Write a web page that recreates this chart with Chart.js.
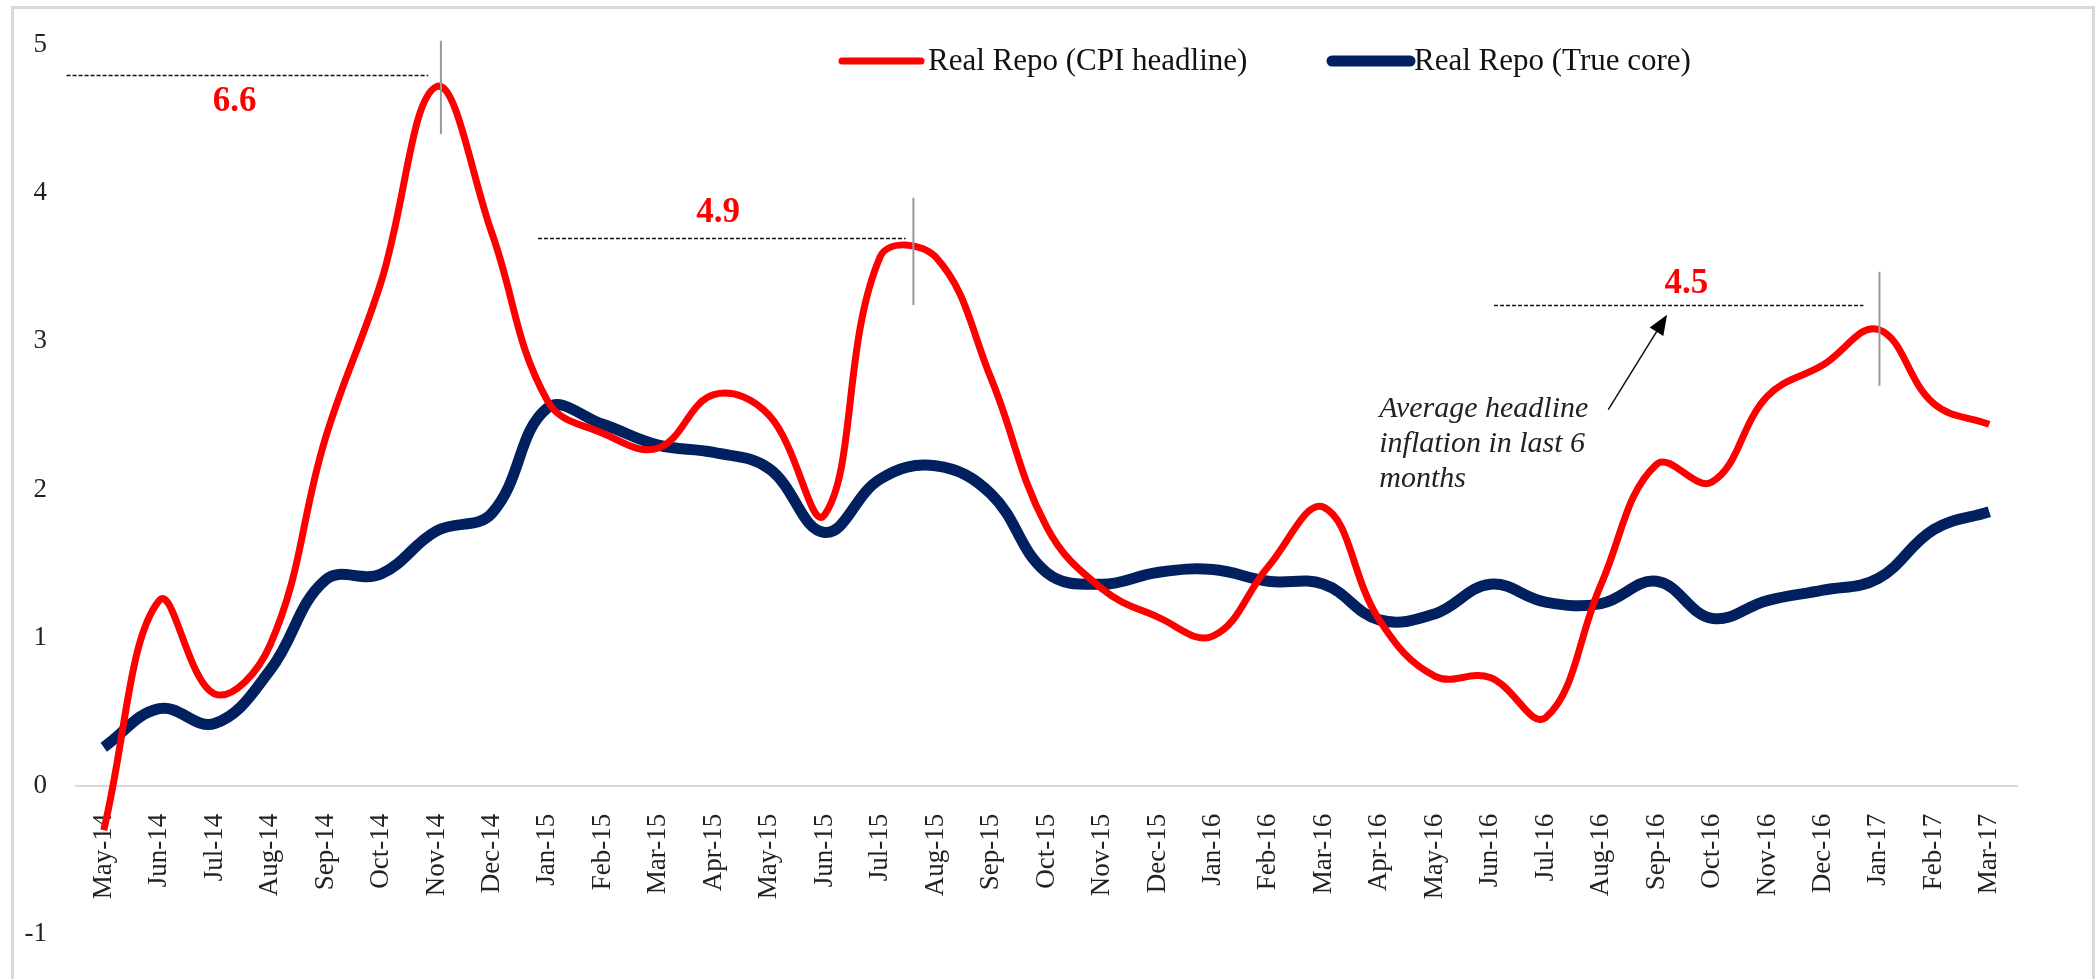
<!DOCTYPE html>
<html>
<head>
<meta charset="utf-8">
<script src="https://cdn.jsdelivr.net/npm/chart.js@4"></script>
<style>
  body { margin: 0; background: #fff; overflow: hidden; }
  #wrap { position: relative; width: 2096px; height: 979px; }
</style>
</head>
<body>
<div id="wrap"><canvas id="repo-chart"></canvas></div>
<script>
/*
 * Months on the x axis
 */
const months = ['May-14', 'Jun-14', 'Jul-14', 'Aug-14', 'Sep-14', 'Oct-14', 'Nov-14', 'Dec-14',
  'Jan-15', 'Feb-15', 'Mar-15', 'Apr-15', 'May-15', 'Jun-15', 'Jul-15', 'Aug-15', 'Sep-15', 'Oct-15',
  'Nov-15', 'Dec-15', 'Jan-16', 'Feb-16', 'Mar-16', 'Apr-16', 'May-16', 'Jun-16', 'Jul-16', 'Aug-16',
  'Sep-16', 'Oct-16', 'Nov-16', 'Dec-16', 'Jan-17', 'Feb-17', 'Mar-17']

/*
 * Real repo rate using CPI headline and using true core
 */
const realRepoHeadline = [-0.3, 1.25, 0.62, 0.95, 2.35, 3.4, 4.72, 3.73, 2.6, 2.38, 2.28, 2.64, 2.5, 1.83,
  3.57, 3.57, 2.75, 1.75, 1.33, 1.14, 1.01, 1.48, 1.88, 1.12, 0.74, 0.73, 0.46, 1.36, 2.17, 2.05, 2.63,
  2.84, 3.08, 2.58, 2.44]
const realRepoCore = [0.26, 0.52, 0.42, 0.78, 1.39, 1.43, 1.72, 1.84, 2.55, 2.44, 2.3, 2.25, 2.14, 1.71,
  2.07, 2.16, 1.97, 1.44, 1.36, 1.44, 1.46, 1.38, 1.36, 1.12, 1.16, 1.36, 1.24, 1.23, 1.38, 1.13, 1.25,
  1.32, 1.4, 1.73, 1.85]

const yTicks = [-1, 0, 1, 2, 3, 4, 5]

/*
 * Average headline inflation over the previous 6 months, shown at three peaks
 */
const avgInflation = ['6.6', '4.9', '4.5']
const avgLineLevel = [4.8, 3.7, 3.245]
const avgLineFrom = [-0.67, 7.83, 25.07]
const avgLineTo = [5.85, 14.46, 31.73]
const avgLabelAt = [2.36, 11.08, 28.54]
const avgLabelLevel = [4.62, 3.87, 3.39]
const peakMarkX = [6.08, 14.6, 32.02]
const peakMarkTop = [5.03, 3.97, 3.47]
const peakMarkBottom = [4.4, 3.245, 2.7]

const noteLines = ['Average headline', 'inflation in last 6', 'months']

const SERIF = '"Liberation Serif", "DejaVu Serif", serif'

const annotate = {
  id: 'annotate',
  beforeDraw(chart) {
    const ctx = chart.ctx
    ctx.save()
    ctx.strokeStyle = '#d9d9d9'
    ctx.lineWidth = 3
    ctx.strokeRect(12.5, 7.5, 2081, 1010)
    ctx.restore()
  },
  afterDatasetsDraw(chart) {
    const { ctx, scales: { x, y } } = chart
    ctx.save()
    // dashed average lines and their labels
    avgInflation.forEach((txt, i) => {
      const yy = Math.round(y.getPixelForValue(avgLineLevel[i])) + 0.5
      ctx.setLineDash([4, 2])
      ctx.strokeStyle = '#111'
      ctx.lineWidth = 1.5
      ctx.beginPath()
      ctx.moveTo(x.getPixelForValue(avgLineFrom[i]), yy)
      ctx.lineTo(x.getPixelForValue(avgLineTo[i]), yy)
      ctx.stroke()
      ctx.setLineDash([])

      ctx.strokeStyle = '#9a9a9a'
      ctx.lineWidth = 2
      ctx.beginPath()
      ctx.moveTo(x.getPixelForValue(peakMarkX[i]), y.getPixelForValue(peakMarkTop[i]))
      ctx.lineTo(x.getPixelForValue(peakMarkX[i]), y.getPixelForValue(peakMarkBottom[i]))
      ctx.stroke()

      ctx.fillStyle = '#ff0000'
      ctx.font = 'bold 35px ' + SERIF
      ctx.textAlign = 'center'
      ctx.textBaseline = 'middle'
      ctx.fillText(txt, x.getPixelForValue(avgLabelAt[i]), y.getPixelForValue(avgLabelLevel[i]))
    })

    // note text with arrow pointing at the last average line
    ctx.fillStyle = '#222'
    ctx.font = 'italic 30px ' + SERIF
    ctx.textAlign = 'left'
    ctx.textBaseline = 'middle'
    const noteX = x.getPixelForValue(23.0)
    noteLines.forEach((line, i) => {
      ctx.fillText(line, noteX, y.getPixelForValue(2.54 - i * 0.235))
    })
    const ax0 = x.getPixelForValue(27.13), ay0 = y.getPixelForValue(2.54)
    const ax1 = x.getPixelForValue(28.19), ay1 = y.getPixelForValue(3.18)
    const ang = Math.atan2(ay1 - ay0, ax1 - ax0)
    ctx.strokeStyle = '#111'
    ctx.lineWidth = 1.5
    ctx.beginPath()
    ctx.moveTo(ax0, ay0)
    ctx.lineTo(ax1 - 14 * Math.cos(ang), ay1 - 14 * Math.sin(ang))
    ctx.stroke()
    ctx.fillStyle = '#000'
    ctx.beginPath()
    ctx.moveTo(ax1, ay1)
    ctx.lineTo(ax1 - 20 * Math.cos(ang) + 8 * Math.sin(ang), ay1 - 20 * Math.sin(ang) - 8 * Math.cos(ang))
    ctx.lineTo(ax1 - 20 * Math.cos(ang) - 8 * Math.sin(ang), ay1 - 20 * Math.sin(ang) + 8 * Math.cos(ang))
    ctx.closePath()
    ctx.fill()
    ctx.restore()
  },
  afterDraw(chart) {
    // legend sits right of centre, like the original
    const ctx = chart.ctx
    const items = [
      { x0: 842, x1: 921, tx: 928 },
      { x0: 1332, x1: 1410, tx: 1414 }
    ]
    ctx.save()
    chart.data.datasets.forEach((ds, i) => {
      const it = items[i]
      ctx.strokeStyle = ds.borderColor
      ctx.lineWidth = ds.borderWidth
      ctx.lineCap = 'round'
      ctx.beginPath()
      ctx.moveTo(it.x0, 61)
      ctx.lineTo(it.x1, 61)
      ctx.stroke()
      ctx.fillStyle = '#111'
      ctx.font = '31px ' + SERIF
      ctx.textAlign = 'left'
      ctx.textBaseline = 'middle'
      ctx.fillText(ds.label, it.tx, 62)
    })
    ctx.restore()
  }
}

const ctx = document.getElementById('repo-chart').getContext('2d')

const repoChart = new Chart(ctx, {
  type: 'line',
  data: {
    labels: months,
    datasets: [{
      label: 'Real Repo (CPI headline)',
      data: realRepoHeadline,
      borderColor: '#ff0000',
      borderWidth: 7,
      pointRadius: 0,
      tension: 0.4,
      fill: false
    }, {
      label: 'Real Repo (True core)',
      data: realRepoCore,
      borderColor: '#002060',
      borderWidth: 11,
      pointRadius: 0,
      tension: 0.4,
      fill: false
    }]
  },
  options: {
    responsive: true,
    maintainAspectRatio: false,
    animation: false,
    layout: { padding: { left: 0, right: 79, top: 42, bottom: 31 } },
    plugins: {
      legend: { display: false },
      tooltip: { enabled: false }
    },
    scales: {
      x: {
        position: { y: 0 },
        offset: true,
        grid: { display: false, drawTicks: false },
        border: { display: true, color: '#d9d9d9', width: 2 },
        ticks: {
          autoSkip: false,
          minRotation: 90,
          maxRotation: 90,
          padding: 28,
          color: '#222',
          font: { family: SERIF, size: 27 }
        }
      },
      y: {
        min: -1,
        max: 5,
        afterFit: (scale) => { scale.width = 76 },
        afterBuildTicks: (scale) => { scale.ticks = yTicks.map(v => ({ value: v })) },
        grid: { display: false, drawTicks: false },
        border: { display: false },
        ticks: {
          padding: 29,
          color: '#222',
          font: { family: SERIF, size: 27 }
        }
      }
    }
  },
  plugins: [annotate]
})
</script>
</body>
</html>
